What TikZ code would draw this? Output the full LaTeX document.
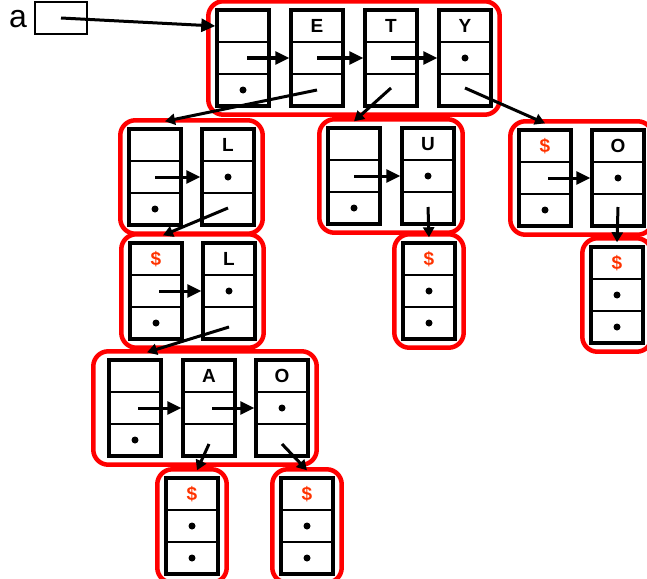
\documentclass[tikz,border=0pt]{standalone}
\usepackage{fontspec}
\setmainfont{Liberation Sans}
\usepackage{tikz}
\usetikzlibrary{arrows.meta,fit}
\definecolor{dolar}{HTML}{FF3300}

\begin{document}
\begin{tikzpicture}[
    x=1pt, y=-1pt,
    >={Triangle[length=14pt,width=13pt]},
    cella/.style={
        draw,
        line width=3.4pt,
        minimum width=52pt,
        minimum height=96pt,
        inner sep=0pt
    },
    fila/.style={line width=2.4pt},
    lletra/.style={font=\fontsize{19}{19}\selectfont\bfseries},
    dolarlletra/.style={lletra, text=dolar},
    grup/.style={
        draw=red,
        line width=4.5pt,
        rounded corners=15pt,
        inner sep=7pt
    },
    seguent/.style={->, line width=3pt},
    filla/.style={
        -{Triangle[length=10pt,width=11pt]},
        line width=3pt
    }
]

\useasboundingbox (0,0) rectangle (647,578);

% ---------------- PUNTER ----------------

\node[font=\fontsize{32}{32}\selectfont] (nomA) at (18,19) {a};
\node[draw, line width=2.4pt, minimum width=52pt, minimum height=32pt] (punter) at (61,18) {};


% ---------------- CEL·LES ----------------

\foreach \nom/\x/\y in {
    t0/243/58, tE/317/58, tT/391/58, tY/465/58,
    a0/155/177, aL/228/177,
    b0/156/291, bL/229/291,
    u0/354/176, uU/428/176, uD/429/291,
    o0/545/178, oO/618/178, oD/617/295,
    c0/135/408, cA/209/408, cO/282/408,
    dA/192/526, dO/307/526}
{
    \node[cella] (\nom) at (\x,\y) {};
    \draw[fila] ([yshift=16pt]\nom.west) -- ([yshift=16pt]\nom.east);
    \draw[fila] ([yshift=-16pt]\nom.west) -- ([yshift=-16pt]\nom.east);
}

% Lletres
\node[lletra] (lE) at ([yshift=32pt]tE.center) {E};
\node[lletra] (lT) at ([yshift=32pt]tT.center) {T};
\node[lletra] (lY) at ([yshift=32pt]tY.center) {Y};
\node[lletra] (lL1) at ([yshift=32pt]aL.center) {L};
\node[lletra] (lL2) at ([yshift=32pt]bL.center) {L};
\node[lletra] (lU) at ([yshift=32pt]uU.center) {U};
\node[lletra] (lO1) at ([yshift=32pt]oO.center) {O};
\node[lletra] (lA) at ([yshift=32pt]cA.center) {A};
\node[lletra] (lO2) at ([yshift=32pt]cO.center) {O};

% Finals de paraula
\foreach \nom in {b0, uD, o0, oD, dA, dO}
    \node[dolarlletra] (fi-\nom) at ([yshift=32pt]\nom.center) {\$};

% Punts
\foreach \nom in {t0, a0, b0, u0, uD, o0, oD, c0, dA, dO}
    \fill ([yshift=-32pt]\nom.center) circle (3.5pt);
\foreach \nom in {tY, aL, bL, uU, uD, oO, oD, cO, dA, dO}
    \fill (\nom.center) circle (3.5pt);


% ---------------- GRUPS ----------------

\coordinate (g8esq) at ([xshift=-7pt]c0.west);

\node[grup, fit=(t0)(tY)] (g1) {};
\node[grup, fit=(a0)(aL)] (g2) {};
\node[grup, fit=(b0)(bL)] (g3) {};
\node[grup, fit=(u0)(uU)] (g4) {};
\node[grup, fit=(uD)] (g5) {};
\node[grup, fit=(o0)(oO)] (g6) {};
\node[grup, fit=(oD)] (g7) {};
\node[grup, fit=(g8esq)(c0)(cO)] (g8) {};
\node[grup, fit=(dA)] (g9) {};
\node[grup, fit=(dO)] (g10) {};


% ---------------- FLETXES ----------------

% Punter inicial
\draw[seguent] (punter.center) -- ([yshift=32pt]t0.west);

% Germans
\draw[seguent] ([xshift=4pt]t0.center) -- (tE.west);
\draw[seguent] (tE.center) -- (tT.west);
\draw[seguent] (tT.center) -- (tY.west);
\draw[seguent] (a0.center) -- (aL.west);
\draw[seguent] ([xshift=3pt]b0.center) -- (bL.west);
\draw[seguent] (u0.center) -- (uU.west);
\draw[seguent] ([xshift=3pt]o0.center) -- (oO.west);
\draw[seguent] ([xshift=3pt]c0.center) -- (cA.west);
\draw[seguent] ([xshift=3pt]cA.center) -- (cO.west);

% Fills
\draw[filla] ([yshift=-32pt]tE.center) -- ([shift={(10pt,6pt)}]a0.north);
\draw[filla] ([yshift=-30pt]tT.center) -- ([yshift=5pt]u0.north);
\draw[filla] ([yshift=-30pt]tY.center) -- ([yshift=5pt]o0.north);
\draw[filla] ([yshift=-31pt]aL.center) -- ([shift={(7pt,6pt)}]b0.north);
\draw[filla] ([yshift=-36pt]bL.center) -- ([shift={(12pt,6pt)}]c0.north);
\draw[filla] ([yshift=-31pt]uU.center) -- ([yshift=4pt]uD.north);
\draw[filla] ([yshift=-29pt]oO.center) -- ([yshift=3pt]oD.north);
\draw[filla] ([yshift=-36pt]cA.center) -- ([shift={(5pt,6pt)}]dA.north);
\draw[filla] ([yshift=-36pt]cO.center) -- ([yshift=6pt]dO.north);

\end{tikzpicture}
\end{document}
